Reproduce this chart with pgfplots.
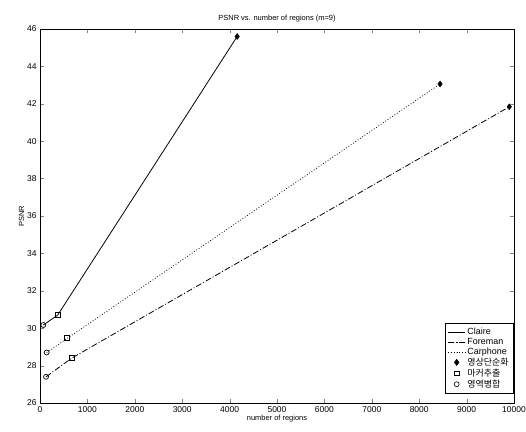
\documentclass[border=0pt]{standalone}
\usepackage{fontspec}
\setmainfont{Liberation Sans}
\newfontfamily\kr{Noto Sans CJK KR}
\usepackage{pgfplots}
\pgfplotsset{compat=1.18}

\begin{document}
\begin{tikzpicture}
\begin{axis}[
	scale only axis,
	width=474bp, height=374bp,
	xmin=0, xmax=10000, ymin=26, ymax=46,
	xtick={0,1000,...,10000},
	ytick={26,28,...,46},
	scaled x ticks=false,
	xticklabel style={/pgf/number format/fixed, /pgf/number format/1000 sep={}},
	/pgf/number format/assume math mode=true,
	tick align=inside,
	tick pos=both,
	major tick length=4bp,
	tick label style={font=\fontsize{8.5}{9}\selectfont},
	title={PSNR vs. number of regions (m=9)},
	title style={font=\fontsize{7.5}{8}\selectfont, yshift=-3bp},
	xlabel={number of regions},
	xlabel style={font=\fontsize{7.5}{8}\selectfont, yshift=4bp},
	ylabel={PSNR},
	ylabel style={font=\fontsize{7.5}{8}\selectfont, yshift=-4bp},
	axis line style={line width=0.9pt},
	legend style={at={(1,0.024)}, anchor=south east, font=\fontsize{9}{10}\selectfont,
		draw=black, line width=0.6pt, row sep=-2pt, inner sep=3pt, cells={anchor=west}},
	legend image post style={line width=0.6pt},
]
\addplot[black, line width=0.8pt] coordinates {(70,30.17) (373,30.7) (4160,45.6)};
\addlegendentry{Claire}
\addplot[black, line width=0.8pt, dash pattern=on 6pt off 2pt on 1pt off 2pt] coordinates {(127,27.4) (669,28.4) (9900,41.84)};
\addlegendentry{Foreman}
\addplot[black, line width=0.8pt, dash pattern=on 0.8pt off 2pt] coordinates {(141,28.7) (576,29.46) (8440,43.06)};
\addlegendentry{Carphone}
\addplot[only marks, mark=diamond*, mark size=3pt, black] coordinates {(4160,45.6) (8440,43.06) (9900,41.84)};
\addlegendentry{\kr 영상단순화}
\addplot[only marks, mark=square, mark size=2.5pt, black, line width=0.7pt] coordinates {(373,30.7) (576,29.46) (669,28.4)};
\addlegendentry{\kr 마커추출}
\addplot[only marks, mark=o, mark size=2.5pt, black, line width=0.7pt] coordinates {(70,30.17) (141,28.7) (127,27.4)};
\addlegendentry{\kr 영역병합}
\end{axis}
\pgfresetboundingbox
\path (current axis.south west) ++(-40bp,-29bp) coordinate (bl);
\path (current axis.north east) ++(12bp,29bp) coordinate (tr);
\path (bl) rectangle (tr);
\end{tikzpicture}
\end{document}
